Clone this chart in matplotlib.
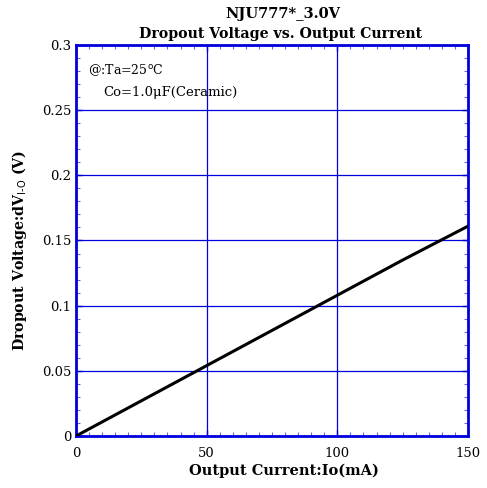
import matplotlib
matplotlib.use("Agg")
import matplotlib.pyplot as plt
from matplotlib.ticker import MultipleLocator

current_mA = [0, 25, 50, 75, 100, 125, 150]
dropout_V = [0.0, 0.027, 0.054, 0.081, 0.108, 0.135, 0.161]

x_ticks = [0, 50, 100, 150]
x_tick_labels = ["0", "50", "100", "150"]
y_ticks = [0, 0.05, 0.1, 0.15, 0.2, 0.25, 0.3]
y_tick_labels = ["0", "0.05", "0.1", "0.15", "0.2", "0.25", "0.3"]

plt.rcParams['font.family'] = ['DejaVu Serif']
fig = plt.figure(figsize=(4.87, 4.88), dpi=100)
ax = fig.add_axes([76/487, 1-436/488, (468-76)/487, (436-45)/488])

blue = "#0000dd"
ax.plot(current_mA, dropout_V, color="black", lw=2.2, zorder=3)
ax.set_xlim(0, 150)
ax.set_ylim(0, 0.3)
ax.set_xticks(x_ticks)
ax.set_xticklabels(x_tick_labels)
ax.set_yticks(y_ticks)
ax.set_yticklabels(y_tick_labels)
ax.xaxis.set_minor_locator(MultipleLocator(5))
ax.yaxis.set_minor_locator(MultipleLocator(0.01))
ax.grid(True, which="major", color=blue, lw=0.9)
ax.tick_params(which="both", direction="in", color=blue, top=True, right=True, labelsize=9.5)
ax.tick_params(which="major", length=4, width=1)
ax.tick_params(which="minor", length=3, width=0.8, color="#6666ee")
ax.tick_params(axis="x", pad=8)
for s in ax.spines.values():
    s.set_color(blue)
    s.set_linewidth(2)

ax.set_xlabel("Output Current:Io(mA)", fontsize=10.5, fontweight="bold", labelpad=4)
ax.xaxis.set_label_coords(0.53, -0.07)
ax.set_ylabel("Dropout Voltage:dV$_{\\mathrm{I\\text{-}O}}$ (V)", fontsize=10.2, fontweight="bold", labelpad=8)
ax.yaxis.set_label_coords(-0.12, 0.475)
fig.text(283/487, 1-14/488, "NJU777*_3.0V", ha="center", va="center", fontsize=10.5, fontweight="bold")
fig.text(281/487, 1-34/488, "Dropout Voltage vs. Output Current", ha="center", va="center", fontsize=10.2, fontweight="bold")
ax.text(0.03, 0.955, "@:Ta=25$^{\\mathrm{o}}$C", transform=ax.transAxes, fontsize=9, va="top")
ax.text(0.07, 0.895, "Co=1.0\u03bcF(Ceramic)", transform=ax.transAxes, fontsize=9.5, va="top")

fig.savefig("out.png", dpi=100)
